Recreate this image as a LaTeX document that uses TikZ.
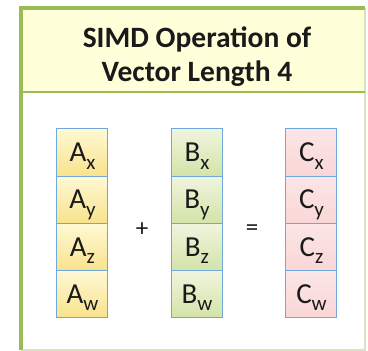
\documentclass[tikz,border=0pt]{standalone}
\usepackage{fontspec}
\setmainfont{Carlito}
\usetikzlibrary{positioning}
\definecolor{FrameGreen}{HTML}{9BBB59}
\definecolor{FrameSoft}{HTML}{D7E4BD}
\definecolor{TitleSoft}{HTML}{FFFFDA}
\definecolor{CellBlue}{HTML}{6FA8DC}
\definecolor{AYelTop}{HTML}{FFF9D4}
\definecolor{AYelBot}{HTML}{F8E28C}
\definecolor{BGrnTop}{HTML}{F0F5DE}
\definecolor{BGrnBot}{HTML}{D3E3A8}
\definecolor{CPinkTop}{HTML}{FCE6E6}
\definecolor{CPinkBot}{HTML}{F9D6D6}
\definecolor{TxtPri}{HTML}{1A1A1A}

\tikzset{
  cell/.style={draw=CellBlue, line width=1pt, minimum width=51pt,
               minimum height=47.25pt, inner sep=0pt, outer sep=0pt,
               text height=18pt, text depth=-1pt,
               font=\fontsize{29}{29}\selectfont, text=TxtPri},
  acell/.style={cell, top color=AYelTop, bottom color=AYelBot},
  bcell/.style={cell, top color=BGrnTop, bottom color=BGrnBot},
  ccell/.style={cell, top color=CPinkTop, bottom color=CPinkBot},
  opsign/.style={font=\fontsize{25}{25}\selectfont, text=TxtPri, inner sep=0pt},
  title/.style={align=center, text=TxtPri, inner sep=0pt,
                font=\fontsize{29.5}{34}\selectfont\bfseries}
}
\newcommand{\vsub}[2]{#1\raisebox{-7.5pt}{\fontsize{21}{21}\selectfont #2}}

\begin{document}
\begin{tikzpicture}[x=1pt, y=-1pt]
  \useasboundingbox (0,0) rectangle (368,351);
  \fill[white] (0,0) rectangle (368,351);
  % frame and title band
  \fill[TitleSoft] (21,8) rectangle (365,92);
  \draw[FrameSoft, line width=1.2pt] (365,8) -- (365,350) -- (21,350);
  \draw[FrameGreen, line width=3.5pt] (21,350) -- (21,8) -- (365,8);
  \draw[FrameGreen, line width=2.5pt] (21,92) -- (365,92);
  \node[title] (title) at (197,57) {SIMD Operation of\\Vector Length 4};

  % vector A
  \node[acell] (A1) at (82.5,152.6) {\vsub{A}{x}};
  \foreach \s/\i/\j in {y/2/1, z/3/2, w/4/3}
    \node[acell, below=0pt of A\j] (A\i) {\vsub{A}{\s}};
  % vector B
  \node[bcell] (B1) at (197,152.6) {\vsub{B}{x}};
  \foreach \s/\i/\j in {y/2/1, z/3/2, w/4/3}
    \node[bcell, below=0pt of B\j] (B\i) {\vsub{B}{\s}};
  % vector C
  \node[ccell] (C1) at (311.5,152.6) {\vsub{C}{x}};
  \foreach \s/\i/\j in {y/2/1, z/3/2, w/4/3}
    \node[ccell, below=0pt of C\j] (C\i) {\vsub{C}{\s}};

  \node[opsign] (plus) at (142,230) {+};
  \node[opsign] (equals) at (252,230) {=};
\end{tikzpicture}
\end{document}
